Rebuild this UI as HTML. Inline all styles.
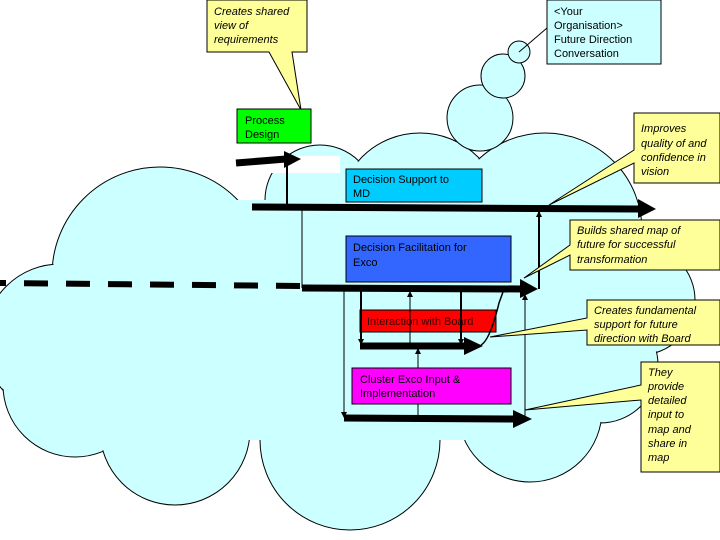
<!DOCTYPE html>
<html><head><meta charset="utf-8"><style>
html,body{margin:0;padding:0;background:#fff;}
svg{display:block;font-family:"Liberation Sans",Arial,sans-serif;}
</style></head><body>
<svg width="720" height="540" viewBox="0 0 720 540" xmlns="http://www.w3.org/2000/svg">
<defs>
<marker id="ah" markerWidth="6" markerHeight="6" refX="5" refY="3" orient="auto" markerUnits="userSpaceOnUse"><path d="M0,0 L6,3 L0,6 z" fill="#000"/></marker>
</defs>
<g fill="#ccffff" stroke="#000" stroke-width="1">
<circle cx="160" cy="275" r="108"/>
<circle cx="320" cy="200" r="55"/>
<circle cx="420" cy="215" r="82"/>
<circle cx="545" cy="230" r="97"/>
<circle cx="640" cy="300" r="55"/>
<circle cx="600" cy="365" r="58"/>
<circle cx="60" cy="340" r="76"/>
<circle cx="75" cy="385" r="72"/>
<circle cx="175" cy="430" r="75"/>
<circle cx="350" cy="440" r="90"/>
<circle cx="530" cy="410" r="72"/>
</g>
<g fill="#ccffff" stroke="none">
<circle cx="160" cy="275" r="107"/>
<circle cx="320" cy="200" r="54"/>
<circle cx="420" cy="215" r="81"/>
<circle cx="545" cy="230" r="96"/>
<circle cx="640" cy="300" r="54"/>
<circle cx="600" cy="365" r="57"/>
<circle cx="60" cy="340" r="75"/>
<circle cx="75" cy="385" r="71"/>
<circle cx="175" cy="430" r="74"/>
<circle cx="350" cy="440" r="89"/>
<circle cx="530" cy="410" r="71"/>
<rect x="200" y="200" width="390" height="240"/>
<rect x="100" y="300" width="200" height="140"/>
</g>
<rect x="242" y="156" width="98" height="17" fill="#fff"/>
<g fill="#ccffff" stroke="#000">
<circle cx="480" cy="118" r="33"/>
<circle cx="503" cy="76" r="22"/>
<circle cx="519" cy="52" r="11"/>
</g>
<line x1="519" y1="52" x2="547" y2="28" stroke="#000"/>
<polygon points="207,0 307,0 307,52 292,52 301,110 269,52 207,52" fill="#ffff99" stroke="#000"/>
<g font-size="11" font-style="italic" fill="#000">
<text x="214" y="15">Creates shared</text><text x="214" y="29">view of</text><text x="214" y="43">requirements</text>
</g>
<rect x="547" y="0" width="114" height="64" fill="#ccffff" stroke="#000"/>
<g font-size="11" fill="#000"><text x="554" y="15">&lt;Your</text><text x="554" y="29">Organisation&gt;</text><text x="554" y="43">Future Direction</text><text x="554" y="57">Conversation</text></g>
<rect x="237" y="109" width="74" height="34" fill="#00ff00" stroke="#000"/>
<text x="245" y="124" font-size="11">Process</text><text x="245" y="138" font-size="11">Design</text>
<rect x="346" y="169" width="136" height="33" fill="#00ccff" stroke="#000"/>
<text x="353" y="183" font-size="11">Decision Support to</text><text x="353" y="197" font-size="11">MD</text>
<rect x="346" y="236" width="165" height="46" fill="#3366ff" stroke="#000"/>
<text x="353" y="251" font-size="11">Decision Facilitation for</text><text x="353" y="266" font-size="11">Exco</text>
<rect x="360" y="310" width="136" height="22" fill="#ff0000" stroke="#000"/>
<text x="367" y="325" font-size="11" fill="#330000">Interaction with Board</text>
<rect x="352" y="368" width="159" height="36" fill="#ff00ff" stroke="#000"/>
<text x="360" y="383" font-size="11">Cluster Exco Input  &amp;</text><text x="360" y="397" font-size="11">Implementation</text>
<g stroke="#000" fill="none">
<line x1="236" y1="163" x2="286" y2="159" stroke-width="7"/>
<line x1="287" y1="160" x2="287" y2="207" stroke-width="2"/>
<line x1="252" y1="207" x2="640" y2="209" stroke-width="7"/>
<line x1="302" y1="207" x2="302" y2="288" stroke-width="1"/>
<line x1="0" y1="283" x2="300" y2="286" stroke-width="6" stroke-dasharray="24,18" stroke-dashoffset="18"/>
<line x1="302" y1="288" x2="522" y2="289" stroke-width="7"/>
<line x1="539" y1="289" x2="539" y2="212" stroke-width="2" marker-end="url(#ah)"/>
<line x1="344" y1="288" x2="344" y2="417" stroke-width="1" marker-end="url(#ah)"/>
<line x1="361" y1="288" x2="361" y2="344" stroke-width="2" marker-end="url(#ah)"/>
<line x1="410" y1="345" x2="410" y2="292" stroke-width="1" marker-end="url(#ah)"/>
<line x1="461" y1="288" x2="461" y2="344" stroke-width="2" marker-end="url(#ah)"/>
<line x1="525" y1="420" x2="525" y2="295" stroke-width="1" marker-end="url(#ah)"/>
<path d="M481,345 Q490,340 499,303 L503,292" stroke-width="1.5"/>
<line x1="360" y1="346" x2="466" y2="346" stroke-width="7"/>
<line x1="418" y1="368" x2="418" y2="349" stroke-width="1" marker-end="url(#ah)"/>
<line x1="344" y1="418" x2="515" y2="419" stroke-width="7"/>
<line x1="418" y1="404" x2="418" y2="418" stroke-width="1"/>
</g>
<g fill="#000">
<polygon points="284,151 301,159 284,168"/>
<polygon points="638,199 656,209 638,218"/>
<polygon points="520,279 538,289 520,298"/>
<polygon points="464,337 483,346 464,355"/>
<polygon points="513,410 532,419 513,428"/>
</g>
<polygon points="634,113 720,113 720,183 634,183 634,163 549,205 634,150" fill="#ffff99" stroke="#000"/>
<g font-size="11" font-style="italic"><text x="641" y="132">Improves</text><text x="641" y="147">quality of and</text><text x="641" y="161">confidence in</text><text x="641" y="175">vision</text></g>
<polygon points="570,220 720,220 720,270 570,270 570,255 524,278 570,245" fill="#ffff99" stroke="#000"/>
<g font-size="11" font-style="italic"><text x="577" y="234">Builds shared map of</text><text x="577" y="248">future for successful</text><text x="577" y="263">transformation</text></g>
<polygon points="587,300 720,300 720,345 587,345 587,330 490,337 587,318" fill="#ffff99" stroke="#000"/>
<g font-size="11" font-style="italic"><text x="594" y="314">Creates fundamental</text><text x="594" y="328">support for future</text><text x="594" y="342">direction with Board</text></g>
<polygon points="641,362 720,362 720,472 641,472 641,400 525,410 641,385" fill="#ffff99" stroke="#000"/>
<g font-size="11" font-style="italic"><text x="648" y="376">They</text><text x="648" y="390">provide</text><text x="648" y="404">detailed</text><text x="648" y="418">input to</text><text x="648" y="433">map and</text><text x="648" y="447">share in</text><text x="648" y="461">map</text></g>
</svg>
</body></html>
